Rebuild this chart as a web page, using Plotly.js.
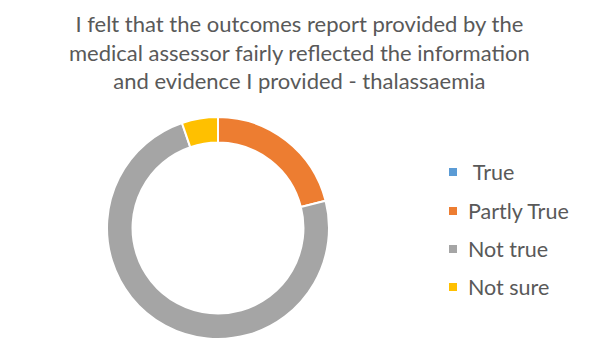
<!DOCTYPE html>
<html><head><meta charset="utf-8">
<script src="https://cdn.plot.ly/plotly-3.0.1.min.js"></script>
<style>html,body{margin:0;padding:0;background:#fff}#chart{width:595px;height:357px}</style>
</head><body><div id="chart"></div>
<script>
const categories = ["True", "Partly True", "Not true", "Not sure"];
const values = [0, 4, 14, 1];
const colors = ["#5B9BD5", "#ED7D31", "#A5A5A5", "#FFC000"];
const titleText = "I felt that the outcomes report provided by the<br>medical assessor fairly reflected the information<br>and evidence I provided - thalassaemia";

const W = 595, H = 357;
const legX0 = 449/W, legX1 = 457/W, legTextX = 466/W;
const legY = [172, 211, 249, 287];
const shapes = [], annotations = [];
categories.forEach((c, i) => {
  const yc = 1 - legY[i]/H;
  shapes.push({type:"rect", xref:"paper", yref:"paper", x0:legX0, x1:legX1,
    y0:yc - 4/H, y1:yc + 4/H, fillcolor:colors[i], line:{width:0}});
  annotations.push({xref:"paper", yref:"paper", x:legTextX, y:yc, xanchor:"left", yanchor:"middle",
    text:(i===0?" ":"") + c, showarrow:false, font:{family:"Lato, sans-serif", size:21.5, color:"#595959"}});
});
annotations.push({xref:"paper", yref:"paper", x:0.503, y:1 - 8/H, xanchor:"center", yanchor:"top",
  text:titleText, showarrow:false, align:"center",
  font:{family:"Lato, sans-serif", size:22, color:"#595959"}});

Plotly.newPlot("chart", [{
  type:"pie", labels:categories, values:values, hole:0.77, sort:false, direction:"clockwise", rotation:0,
  marker:{colors:colors, line:{color:"#ffffff", width:2}}, textinfo:"none", hoverinfo:"label+value",
  domain:{x:[107/W, 329/W], y:[1-339/H, 1-117/H]}, showlegend:false
}], {
  width:W, height:H, margin:{l:0,r:0,t:0,b:0}, paper_bgcolor:"#fff", showlegend:false,
  shapes:shapes, annotations:annotations
}, {displayModeBar:false, staticPlot:true});
</script></body></html>
